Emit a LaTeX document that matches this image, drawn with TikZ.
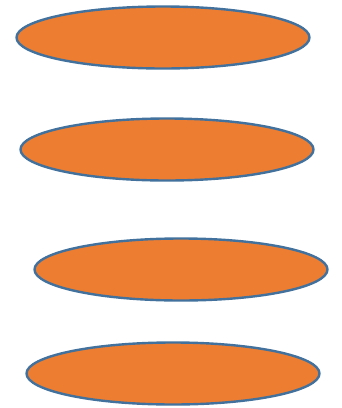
\documentclass[tikz,border=0pt]{standalone}
\usetikzlibrary{shapes.geometric}
\definecolor{ofill}{HTML}{ED7D31}
\definecolor{oline}{HTML}{41719C}
\begin{document}
\begin{tikzpicture}[x=1pt,y=-1pt,
  disc/.style={ellipse, draw=oline, fill=ofill, line width=2.4pt, inner sep=0pt,
    minimum width=293pt, minimum height=62pt}]
\useasboundingbox (0,0) rectangle (341,408);
\node[disc] (e1) at (163,37.5) {};
\node[disc] (e2) at (167,149.5) {};
\node[disc] (e3) at (181,269.5) {};
\node[disc] (e4) at (173,373.5) {};
\end{tikzpicture}
\end{document}
